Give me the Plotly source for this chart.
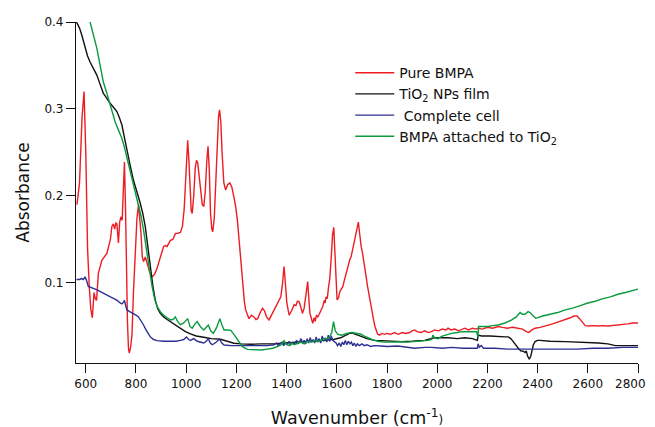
import plotly.graph_objects as go

# ---------------- data ----------------
red_x = [565, 575, 585, 593, 600, 607, 614, 620, 626, 633, 638, 643, 650, 664, 684, 698, 704, 710, 715, 720, 724, 730, 735, 740, 745, 750, 754, 758, 762, 766, 770, 773, 778, 784, 790, 797, 804, 810, 815, 820, 825, 830, 837, 845, 855, 864, 874, 884, 897, 910, 918, 924, 937, 947, 957, 965, 977, 985, 992, 997, 1002, 1006, 1011, 1016, 1020, 1024, 1030, 1036, 1041, 1046, 1052, 1058, 1064, 1070, 1076, 1082, 1087, 1092, 1097, 1102, 1106, 1112, 1118, 1124, 1129, 1133, 1138, 1143, 1150, 1157, 1165, 1174, 1182, 1190, 1197, 1204, 1210, 1217, 1225, 1232, 1237, 1244, 1250, 1260, 1270, 1278, 1285, 1295, 1304, 1312, 1320, 1330, 1345, 1357, 1370, 1377, 1384, 1390, 1395, 1401, 1410, 1420, 1430, 1437, 1443, 1450, 1457, 1463, 1470, 1477, 1484, 1489, 1493, 1498, 1504, 1510, 1514, 1519, 1524, 1530, 1537, 1544, 1550, 1554, 1557, 1562, 1567, 1572, 1578, 1583, 1588, 1593, 1597, 1601, 1607, 1612, 1618, 1624, 1630, 1634, 1638, 1644, 1648, 1652, 1657, 1661, 1664, 1668, 1672, 1677, 1680, 1683, 1686, 1689, 1692, 1697, 1702, 1707, 1712, 1717, 1722, 1727, 1732, 1737, 1742, 1747, 1752, 1757, 1763, 1770, 1780, 1790, 1800, 1815, 1830, 1845, 1860, 1875, 1890, 1900, 1910, 1920, 1935, 1950, 1965, 1977, 1990, 2005, 2020, 2035, 2043, 2055, 2070, 2085, 2100, 2110, 2125, 2140, 2155, 2163, 2180, 2200, 2220, 2243, 2260, 2280, 2300, 2323, 2340, 2355, 2365, 2377, 2390, 2410, 2425, 2443, 2460, 2480, 2500, 2515, 2530, 2545, 2557, 2567, 2577, 2590, 2603, 2620, 2640, 2660, 2680, 2700, 2720, 2740, 2760, 2780, 2800]
red_y = [0.190, 0.215, 0.290, 0.320, 0.250, 0.140, 0.095, 0.070, 0.060, 0.089, 0.082, 0.080, 0.111, 0.126, 0.134, 0.150, 0.165, 0.168, 0.162, 0.169, 0.168, 0.146, 0.170, 0.176, 0.172, 0.205, 0.239, 0.190, 0.100, 0.055, 0.025, 0.0195, 0.025, 0.040, 0.090, 0.142, 0.175, 0.190, 0.175, 0.157, 0.130, 0.1245, 0.130, 0.122, 0.112, 0.107, 0.110, 0.117, 0.130, 0.142, 0.143, 0.142, 0.149, 0.150, 0.157, 0.157, 0.158, 0.165, 0.185, 0.220, 0.255, 0.264, 0.240, 0.200, 0.183, 0.180, 0.200, 0.232, 0.241, 0.238, 0.222, 0.200, 0.190, 0.188, 0.205, 0.240, 0.257, 0.230, 0.180, 0.162, 0.159, 0.175, 0.225, 0.270, 0.292, 0.299, 0.285, 0.250, 0.215, 0.207, 0.213, 0.215, 0.210, 0.199, 0.188, 0.172, 0.150, 0.130, 0.100, 0.078, 0.069, 0.062, 0.059, 0.063, 0.061, 0.058, 0.059, 0.066, 0.071, 0.068, 0.061, 0.0575, 0.066, 0.073, 0.080, 0.084, 0.100, 0.119, 0.100, 0.077, 0.063, 0.068, 0.075, 0.074, 0.079, 0.0785, 0.072, 0.065, 0.071, 0.085, 0.1015, 0.080, 0.065, 0.060, 0.0537, 0.060, 0.056, 0.063, 0.061, 0.064, 0.068, 0.073, 0.080, 0.077, 0.084, 0.082, 0.095, 0.105, 0.130, 0.155, 0.164, 0.130, 0.095, 0.0805, 0.083, 0.090, 0.093, 0.096, 0.103, 0.108, 0.112, 0.119, 0.124, 0.127, 0.130, 0.136, 0.138, 0.143, 0.152, 0.157, 0.162, 0.166, 0.170, 0.162, 0.152, 0.142, 0.135, 0.127, 0.115, 0.107, 0.097, 0.088, 0.080, 0.073, 0.065, 0.057, 0.050, 0.046, 0.041, 0.040, 0.042, 0.041, 0.042, 0.041, 0.043, 0.041, 0.043, 0.042, 0.043, 0.045, 0.046, 0.044, 0.043, 0.045, 0.043, 0.044, 0.046, 0.045, 0.047, 0.046, 0.048, 0.046, 0.047, 0.045, 0.047, 0.048, 0.046, 0.048, 0.047, 0.048, 0.047, 0.049, 0.048, 0.050, 0.049, 0.048, 0.049, 0.048, 0.047, 0.044, 0.043, 0.046, 0.048, 0.049, 0.050, 0.0517, 0.053, 0.055, 0.057, 0.058, 0.060, 0.062, 0.062, 0.059, 0.055, 0.051, 0.0505, 0.051, 0.0505, 0.051, 0.0505, 0.051, 0.052, 0.052, 0.053, 0.054, 0.054]

black_x = [563, 575, 584, 597, 607, 617, 630, 644, 655, 664, 670, 677, 687, 697, 710, 724, 734, 744, 754, 764, 777, 790, 804, 817, 827, 837, 847, 857, 867, 877, 887, 897, 910, 924, 937, 957, 977, 997, 1017, 1040, 1070, 1100, 1137, 1160, 1190, 1220, 1257, 1300, 1350, 1390, 1450, 1500, 1550, 1590, 1615, 1637, 1650, 1665, 1680, 1697, 1720, 1750, 1777, 1820, 1860, 1900, 1950, 1975, 1990, 2010, 2043, 2080, 2110, 2140, 2157, 2160, 2163, 2177, 2210, 2243, 2270, 2283, 2293, 2303, 2313, 2323, 2333, 2343, 2350, 2355, 2360, 2367, 2373, 2377, 2383, 2390, 2400, 2410, 2450, 2510, 2580, 2643, 2680, 2710, 2760, 2800]
black_y = [0.400, 0.393, 0.385, 0.370, 0.361, 0.354, 0.347, 0.339, 0.330, 0.322, 0.318, 0.315, 0.310, 0.3066, 0.302, 0.297, 0.290, 0.2816, 0.267, 0.252, 0.235, 0.218, 0.205, 0.1916, 0.180, 0.1647, 0.142, 0.1187, 0.097, 0.080, 0.070, 0.065, 0.061, 0.058, 0.0555, 0.052, 0.048, 0.044, 0.0414, 0.039, 0.0376, 0.036, 0.0353, 0.033, 0.0307, 0.030, 0.0295, 0.030, 0.030, 0.031, 0.032, 0.033, 0.034, 0.0353, 0.037, 0.040, 0.042, 0.042, 0.040, 0.0385, 0.036, 0.034, 0.0337, 0.033, 0.0326, 0.033, 0.034, 0.036, 0.037, 0.037, 0.037, 0.036, 0.037, 0.036, 0.034, 0.034, 0.040, 0.039, 0.039, 0.038, 0.038, 0.038, 0.036, 0.0326, 0.028, 0.025, 0.022, 0.0215, 0.020, 0.022, 0.016, 0.0123, 0.016, 0.022, 0.029, 0.0326, 0.034, 0.034, 0.033, 0.0326, 0.032, 0.031, 0.030, 0.028, 0.028, 0.028]

blue_x = [563, 575, 583, 590, 597, 603, 610, 620, 630, 645, 658, 670, 685, 698, 710, 725, 737, 744, 750, 754, 758, 764, 775, 790, 800, 810, 820, 830, 840, 850, 857, 870, 884, 910, 937, 960, 977, 990, 1001, 1010, 1017, 1030, 1044, 1056, 1070, 1080, 1088, 1096, 1104, 1115, 1124, 1133, 1142, 1151, 1180, 1210, 1257, 1290, 1324, 1350, 1360, 1366, 1375, 1382, 1388, 1395, 1402, 1410, 1416, 1424, 1432, 1440, 1446, 1452, 1458, 1463, 1470, 1476, 1482, 1488, 1494, 1500, 1506, 1512, 1518, 1524, 1530, 1536, 1542, 1548, 1554, 1560, 1566, 1572, 1578, 1584, 1590, 1597, 1603, 1610, 1616, 1622, 1628, 1634, 1640, 1646, 1652, 1658, 1664, 1670, 1676, 1682, 1690, 1700, 1710, 1720, 1735, 1750, 1777, 1800, 1843, 1880, 1910, 1950, 1977, 2020, 2060, 2100, 2150, 2160, 2163, 2168, 2175, 2185, 2230, 2280, 2330, 2363, 2400, 2450, 2510, 2560, 2620, 2680, 2740, 2800]
blue_y = [0.104, 0.104, 0.105, 0.104, 0.107, 0.103, 0.096, 0.095, 0.094, 0.092, 0.090, 0.088, 0.086, 0.084, 0.0824, 0.080, 0.077, 0.076, 0.078, 0.080, 0.075, 0.069, 0.067, 0.065, 0.063, 0.061, 0.057, 0.0517, 0.046, 0.041, 0.038, 0.035, 0.0337, 0.033, 0.0326, 0.033, 0.034, 0.035, 0.038, 0.035, 0.034, 0.036, 0.033, 0.032, 0.031, 0.033, 0.036, 0.031, 0.029, 0.031, 0.033, 0.0353, 0.031, 0.0287, 0.028, 0.028, 0.0276, 0.028, 0.028, 0.029, 0.031, 0.028, 0.030, 0.032, 0.028, 0.031, 0.029, 0.033, 0.029, 0.031, 0.030, 0.034, 0.030, 0.033, 0.036, 0.031, 0.034, 0.030, 0.036, 0.031, 0.037, 0.032, 0.035, 0.031, 0.038, 0.032, 0.036, 0.031, 0.039, 0.033, 0.037, 0.032, 0.040, 0.033, 0.039, 0.034, 0.0326, 0.031, 0.028, 0.031, 0.027, 0.032, 0.029, 0.034, 0.029, 0.033, 0.030, 0.032, 0.028, 0.031, 0.027, 0.030, 0.028, 0.030, 0.028, 0.029, 0.027, 0.028, 0.0276, 0.027, 0.0276, 0.026, 0.025, 0.026, 0.026, 0.025, 0.026, 0.025, 0.025, 0.025, 0.030, 0.026, 0.028, 0.025, 0.025, 0.024, 0.024, 0.024, 0.024, 0.024, 0.024, 0.024, 0.025, 0.025, 0.026, 0.026]

green_x = [617, 630, 644, 657, 670, 684, 697, 707, 717, 730, 744, 754, 764, 777, 790, 800, 810, 820, 830, 840, 850, 857, 864, 874, 884, 897, 910, 924, 937, 947, 957, 965, 977, 990, 1000, 1006, 1015, 1024, 1035, 1044, 1056, 1070, 1080, 1088, 1098, 1108, 1120, 1128, 1134, 1142, 1151, 1165, 1178, 1190, 1204, 1214, 1224, 1244, 1270, 1300, 1324, 1345, 1365, 1377, 1390, 1398, 1410, 1420, 1430, 1445, 1457, 1470, 1485, 1500, 1515, 1530, 1545, 1560, 1570, 1580, 1587, 1594, 1604, 1620, 1640, 1660, 1680, 1697, 1710, 1724, 1740, 1763, 1790, 1820, 1850, 1880, 1910, 1940, 1965, 1978, 1983, 1990, 2003, 2020, 2040, 2057, 2080, 2100, 2120, 2140, 2157, 2162, 2165, 2180, 2203, 2220, 2243, 2270, 2297, 2315, 2325, 2330, 2340, 2350, 2362, 2370, 2380, 2393, 2420, 2450, 2480, 2510, 2540, 2570, 2600, 2630, 2660, 2690, 2720, 2750, 2780, 2800]
green_y = [0.400, 0.385, 0.370, 0.350, 0.331, 0.318, 0.305, 0.295, 0.285, 0.276, 0.266, 0.256, 0.244, 0.228, 0.2146, 0.203, 0.1916, 0.177, 0.161, 0.142, 0.1226, 0.108, 0.096, 0.082, 0.073, 0.067, 0.063, 0.060, 0.0575, 0.058, 0.061, 0.056, 0.052, 0.054, 0.058, 0.059, 0.050, 0.048, 0.053, 0.0555, 0.050, 0.046, 0.049, 0.0517, 0.045, 0.042, 0.048, 0.056, 0.059, 0.052, 0.046, 0.046, 0.0455, 0.041, 0.0345, 0.030, 0.0268, 0.0237, 0.023, 0.023, 0.024, 0.025, 0.027, 0.0287, 0.0335, 0.030, 0.028, 0.031, 0.029, 0.031, 0.032, 0.030, 0.033, 0.032, 0.034, 0.033, 0.035, 0.036, 0.037, 0.043, 0.0555, 0.045, 0.041, 0.040, 0.042, 0.043, 0.042, 0.041, 0.039, 0.037, 0.035, 0.033, 0.032, 0.032, 0.0325, 0.032, 0.0326, 0.033, 0.034, 0.035, 0.040, 0.037, 0.036, 0.039, 0.041, 0.042, 0.043, 0.044, 0.044, 0.044, 0.044, 0.038, 0.050, 0.050, 0.050, 0.051, 0.0517, 0.054, 0.0575, 0.061, 0.064, 0.066, 0.064, 0.064, 0.067, 0.066, 0.063, 0.0594, 0.062, 0.064, 0.066, 0.069, 0.071, 0.074, 0.077, 0.079, 0.082, 0.084, 0.087, 0.089, 0.091, 0.093]

x_ticks = [600, 800, 1000, 1200, 1400, 1600, 1800, 2000, 2200, 2400, 2600, 2800]
y_ticks = [0.1, 0.2, 0.3, 0.4]
y_tick_text = ["0.1", "0.2", "0.3", "0.4"]

series_names = ["Pure BMPA", "TiO<sub>2</sub> NPs film", " Complete cell", "BMPA attached to TiO<sub>2</sub>"]
series_colors = ["#ed1c24", "#111111", "#2e3192", "#0a9a3c"]

# ---------------- figure ----------------
FONT = "DejaVu Sans, Verdana, sans-serif"
fig = go.Figure()
for xs, ys, name, col in zip([red_x, black_x, blue_x, green_x],
                             [red_y, black_y, blue_y, green_y],
                             series_names, series_colors):
    fig.add_trace(go.Scatter(x=xs, y=ys, mode="lines", name=name,
                             line=dict(color=col, width=1.4), cliponaxis=True))

# tick labels; the last one is padded so it stays inside the page edge
x_tick_text = [str(v) for v in x_ticks]
x_tick_text[-1] = x_tick_text[-1] + "\u2007\u2007"

fig.update_layout(
    width=655, height=427,
    margin=dict(l=68, r=25, t=14, b=72),
    paper_bgcolor="white", plot_bgcolor="white",
    font=dict(family=FONT, size=12, color="#111"),
    showlegend=True,
    legend=dict(x=0.488, y=0.897, xanchor="left", yanchor="top",
                bgcolor="rgba(0,0,0,0)", font=dict(family=FONT, size=14, color="#111"),
                tracegroupgap=0, itemwidth=39),
)
fig.update_xaxes(range=[561, 2800], tickvals=x_ticks, ticktext=x_tick_text,
                 ticks="outside", ticklen=9,
                 tickcolor="#111", showline=True, linecolor="#111", linewidth=1.2,
                 showgrid=False, zeroline=False, mirror=False, automargin=False,
                 ticklabeloverflow="allow",
                 title=dict(text="Wavenumber (cm<sup>-1</sup><span style='font-size:12px'>)</span>",
                            font=dict(family=FONT, size=17.5, color="#111"), standoff=22),
                 tickfont=dict(size=12, family=FONT))
fig.update_yaxes(range=[0.008, 0.4], tickvals=y_ticks, ticktext=y_tick_text,
                 ticks="outside", ticklen=9, tickcolor="#111", showline=True,
                 linecolor="#111", linewidth=1.2, showgrid=False, zeroline=False,
                 automargin=False,
                 title=dict(text="Absorbance",
                            font=dict(family=FONT, size=17, color="#111"), standoff=10),
                 tickfont=dict(size=12, family=FONT))

fig.write_html("out.html")
